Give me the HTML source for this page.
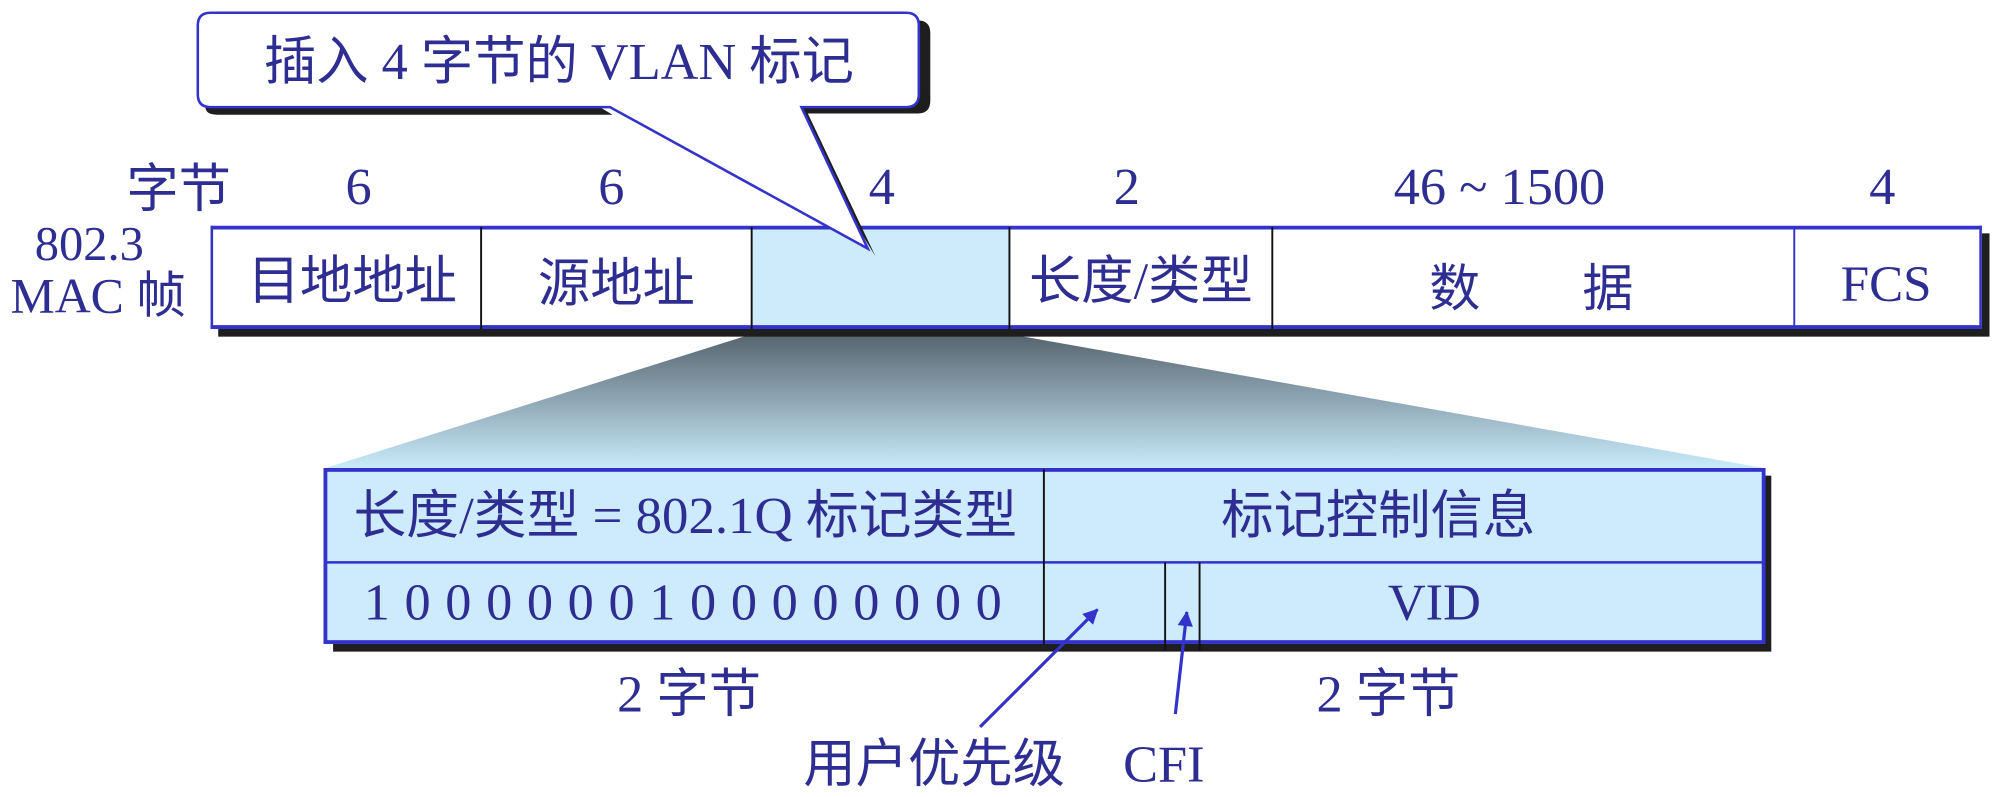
<!DOCTYPE html>
<html><head><meta charset="utf-8"><style>
html,body{margin:0;padding:0;background:#fff;width:2001px;height:797px;overflow:hidden}
svg{display:block}
text{font-family:"Liberation Serif","Noto Sans CJK SC",serif;fill:#2d2d92;text-anchor:middle}
</style></head><body>
<svg width="2001" height="797" viewBox="0 0 1568 625" preserveAspectRatio="none" xmlns="http://www.w3.org/2000/svg">
<defs>
<linearGradient id="g" x1="0" y1="0" x2="0" y2="1">
<stop offset="0" stop-color="#56646e"/><stop offset="1" stop-color="#c9ebfb"/>
</linearGradient>
<marker id="ah" markerWidth="12" markerHeight="12" refX="11" refY="6" orient="auto" markerUnits="userSpaceOnUse" viewBox="0 0 12 12">
<path d="M0,0 L12,6 L0,12 z" fill="#3333cc"/></marker>
</defs>
<polygon points="589,262 791,262 1382,367 255,367" fill="url(#g)"/>
<rect x="171" y="183" width="1388" height="81" fill="#1e1e1e"/>
<rect x="165" y="177" width="1388" height="81" fill="#fff"/>
<rect x="589" y="177" width="202" height="81" fill="#cdebfb"/>
<line x1="165" y1="178.5" x2="1553" y2="178.5" stroke="#3333cc" stroke-width="3"/>
<line x1="165" y1="256.5" x2="1553" y2="256.5" stroke="#3333cc" stroke-width="3"/>
<line x1="166" y1="177" x2="166" y2="258" stroke="#3333cc" stroke-width="2"/>
<line x1="1552" y1="177" x2="1552" y2="258" stroke="#3333cc" stroke-width="2"/>
<g stroke="#111" stroke-width="1.5">
<line x1="377" y1="178" x2="377" y2="258"/><line x1="589" y1="178" x2="589" y2="258"/>
<line x1="791" y1="178" x2="791" y2="258"/><line x1="997" y1="178" x2="997" y2="258"/>
</g>
<line x1="1406" y1="178" x2="1406" y2="258" stroke="#3333cc" stroke-width="1.5"/>
<g font-size="41">
<text x="276" y="234">目地地址</text>
<text x="483" y="236">源地址</text>
<text x="894" y="234">长度/类型</text>
<text x="1200" y="240" font-size="40">数　　据</text>
<text x="1478" y="236" font-size="40">FCS</text>
</g>
<g font-size="41">
<text x="140" y="162">字节</text>
<text x="281" y="160">6</text><text x="479" y="160">6</text>
<text x="691" y="160">4</text><text x="883" y="160">2</text>
<text x="1175" y="160">46 ~ 1500</text><text x="1475" y="160">4</text>
<text x="70" y="204" font-size="38">802.3</text>
<text x="77" y="245" font-size="39">MAC 帧</text>
</g>
<!-- callout -->
<path d="M171,16 H719 Q729,16 729,26 V79 Q729,89 719,89 H633 L686,201 L620,93 Z" fill="#1e1e1e"/>
<path d="M161,84 H470 L480,90 H171 Q161,90 161,84 Z" fill="#1e1e1e"/>
<path d="M165,10 H710 Q720,10 720,20 V74 Q720,84 710,84 H628 L680,195 L478,84 H165 Q155,84 155,74 V20 Q155,10 165,10 Z" fill="#fff" stroke="#3333cc" stroke-width="2"/>
<text x="438" y="62" font-size="41">插入 4 字节的 VLAN 标记</text>
<!-- lower table -->
<rect x="261" y="373" width="1127" height="138" fill="#1e1e1e"/>
<rect x="255" y="367" width="1127" height="138" fill="#cdebfc"/>
<rect x="255" y="368.5" width="1127" height="135" fill="none" stroke="#3333cc" stroke-width="3"/>
<line x1="255" y1="441" x2="1382" y2="441" stroke="#3333cc" stroke-width="2"/>
<g stroke="#111" stroke-width="1.5">
<line x1="818" y1="368" x2="818" y2="505"/>
<line x1="913" y1="441" x2="913" y2="510"/><line x1="940" y1="441" x2="940" y2="510"/>
</g>
<g font-size="41">
<text x="537" y="418" textLength="520" lengthAdjust="spacingAndGlyphs">长度/类型 = 802.1Q 标记类型</text>
<text x="1080" y="418">标记控制信息</text>
<text x="535" y="486" textLength="500" lengthAdjust="spacing">1 0 0 0 0 0 0 1 0 0 0 0 0 0 0 0</text>
<text x="1124" y="486">VID</text>
<text x="540" y="558">2 字节</text>
<text x="1088" y="558">2 字节</text>
<text x="732" y="613">用户优先级</text>
<text x="912" y="613">CFI</text>
</g>
<line x1="768" y1="570" x2="860" y2="478" stroke="#3333cc" stroke-width="2.5" marker-end="url(#ah)"/>
<line x1="921" y1="560" x2="930" y2="480" stroke="#3333cc" stroke-width="2.5" marker-end="url(#ah)"/>
</svg>
</body></html>
